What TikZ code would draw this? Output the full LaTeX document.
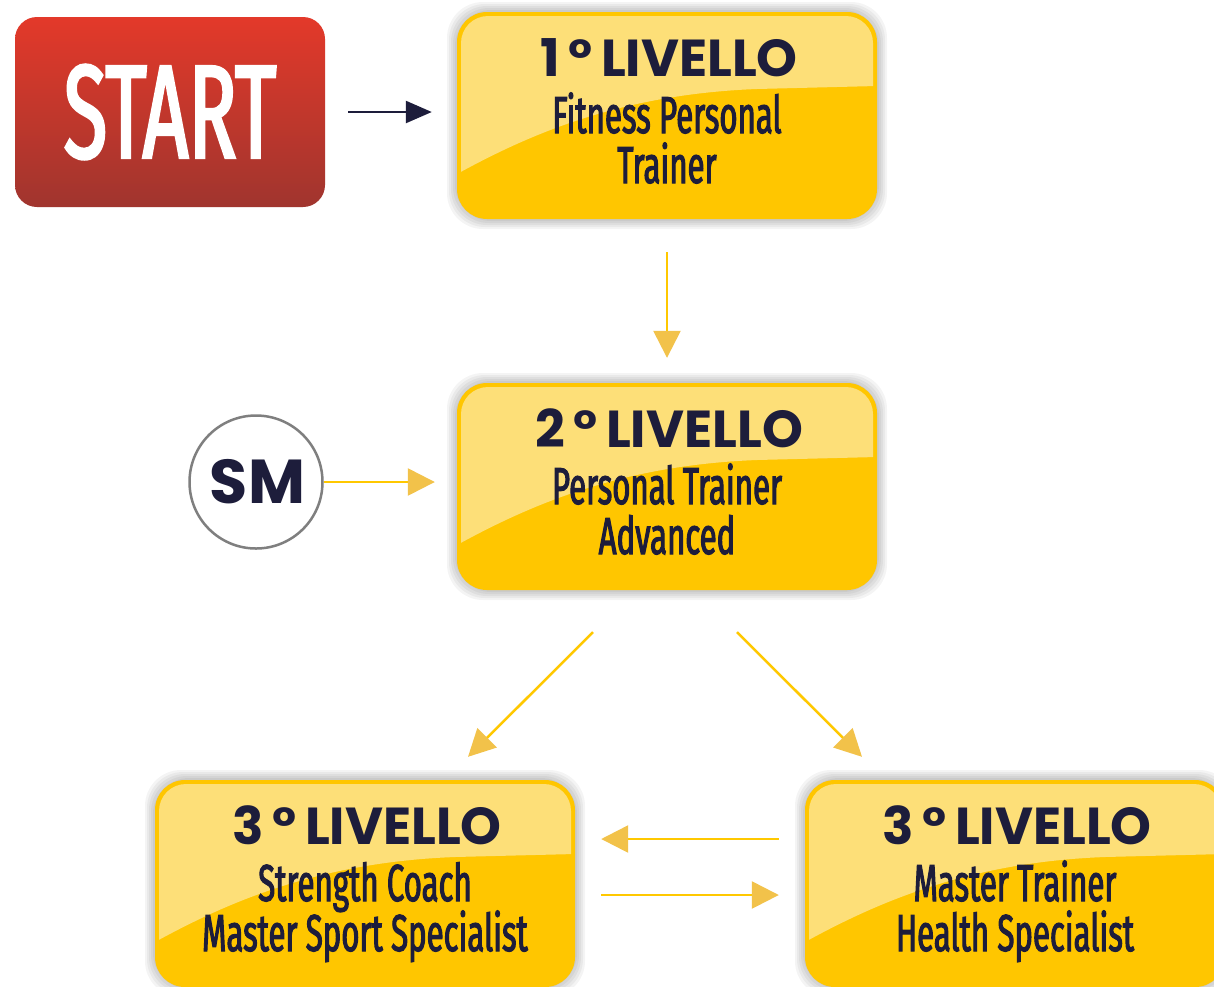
\documentclass[tikz,border=0pt]{standalone}
\usepackage{fontspec}
\usetikzlibrary{arrows.meta,calc}
\newfontfamily\titlefont{Poppins}
\newfontfamily\condfont{Fira Sans}[FakeStretch=0.60,FakeBold=2]
\definecolor{navy}{HTML}{1D1D3B}
\definecolor{gold}{HTML}{FFC600}
\definecolor{lightgold}{HTML}{FDDF78}
\definecolor{lineyellow}{HTML}{FFC800}
\definecolor{headyellow}{HTML}{F2C24A}
\definecolor{redtop}{HTML}{E3392A}
\definecolor{redbot}{HTML}{A0352E}
\definecolor{ringgray}{HTML}{7F7F7F}
\tikzset{
  lvl/.style={rectangle, rounded corners=30pt, fill=gold, inner sep=0pt},
  ttl/.style={font=\titlefont\bfseries\fontsize{52}{52}\selectfont, text=navy, inner sep=0pt, anchor=base},
  sub/.style={font=\condfont\fontsize{52}{52}\selectfont, text=navy, inner sep=0pt, anchor=base},
  yarrow/.style={draw=lineyellow, line width=2.5pt, -{Triangle[length=27pt,width=27pt,color=headyellow]}},
  narrow/.style={draw=navy, line width=2.5pt, -{Triangle[length=26pt,width=22pt,color=navy]}},
  startbox/.style={rectangle, rounded corners=22pt, top color=redtop, bottom color=redbot, inner sep=0pt,
    text=white, font=\condfont\fontsize{133}{133}\selectfont},
  smcircle/.style={circle, draw=ringgray, line width=2.5pt, fill=white, inner sep=0pt,
    text=navy, font=\titlefont\bfseries\fontsize{62}{62}\selectfont}
}
\newcommand\levelbox[6]{%
\begin{scope}[shift={(#2,#3)}]
  \foreach \o in {10,8,6,4,2}{\fill[black,opacity=0.045,rounded corners=36pt] (-\o,-\o) rectangle (420+\o,207+\o);}
  \node[lvl, minimum width=420pt, minimum height=207pt] (#1) at (210,103.5) {};
  \begin{scope}
    \clip[rounded corners=27pt] (4,4) rectangle (416,203);
    \fill[lightgold] (0,0) -- (0,162) .. controls (80,118) and (170,82) .. (300,77) -- (420,74) -- (420,0) -- cycle;
  \end{scope}
  \node[ttl] (#1-t) at (212,64) {#4};
  \node[sub] (#1-a) at (210,121) {#5};
  \node[sub] (#1-b) at (210,171) {#6};
\end{scope}}
\begin{document}
\begin{tikzpicture}[x=1pt,y=-1pt]
\clip (0,0) rectangle (1214,986);
\fill[white] (0,0) rectangle (1214,986);
\node[startbox, minimum width=310pt, minimum height=190pt] (start) at (170,112) {START};
\node[smcircle, minimum size=133pt] (sm) at (256,482) {\kern3pt SM};
\levelbox{l1}{457}{12}{1\,°\,LIVELLO}{Fitness Personal}{Trainer}
\levelbox{l2}{457}{383}{2\,°\,LIVELLO}{Personal Trainer}{Advanced}
\levelbox{l3a}{155}{780}{3\,°\,LIVELLO}{Strength Coach}{Master Sport Specialist}
\levelbox{l3b}{805}{780}{3\,°\,LIVELLO}{Master Trainer}{Health Specialist}
\draw[narrow, shorten <=23pt, shorten >=25pt] (start.east) -- (start.east -| l1.west);
\draw[yarrow, shorten <=33pt, shorten >=25pt] (l1.south) -- (l2.north);
\draw[yarrow, shorten >=22pt] (sm.east) -- (sm.east -| l2.west);
\coordinate (d1s) at ($(l2.south)+(-74,42)$);
\coordinate (d1e) at ($(l3a.north)+(103,-23)$);
\coordinate (d2s) at ($(l2.south)+(70,42)$);
\coordinate (d2e) at ($(l3b.north)+(-153,-23)$);
\draw[yarrow] (d1s) -- (d1e);
\draw[yarrow] (d2s) -- (d2e);
\coordinate (h1s) at ($(l3b.west)+(-26,-44.5)$);
\coordinate (h1e) at ($(l3a.east)+(26,-44.5)$);
\coordinate (h2s) at ($(l3a.east)+(26,11.5)$);
\coordinate (h2e) at ($(l3b.west)+(-26,11.5)$);
\draw[yarrow] (h1s) -- (h1e);
\draw[yarrow] (h2s) -- (h2e);
\end{tikzpicture}
\end{document}
